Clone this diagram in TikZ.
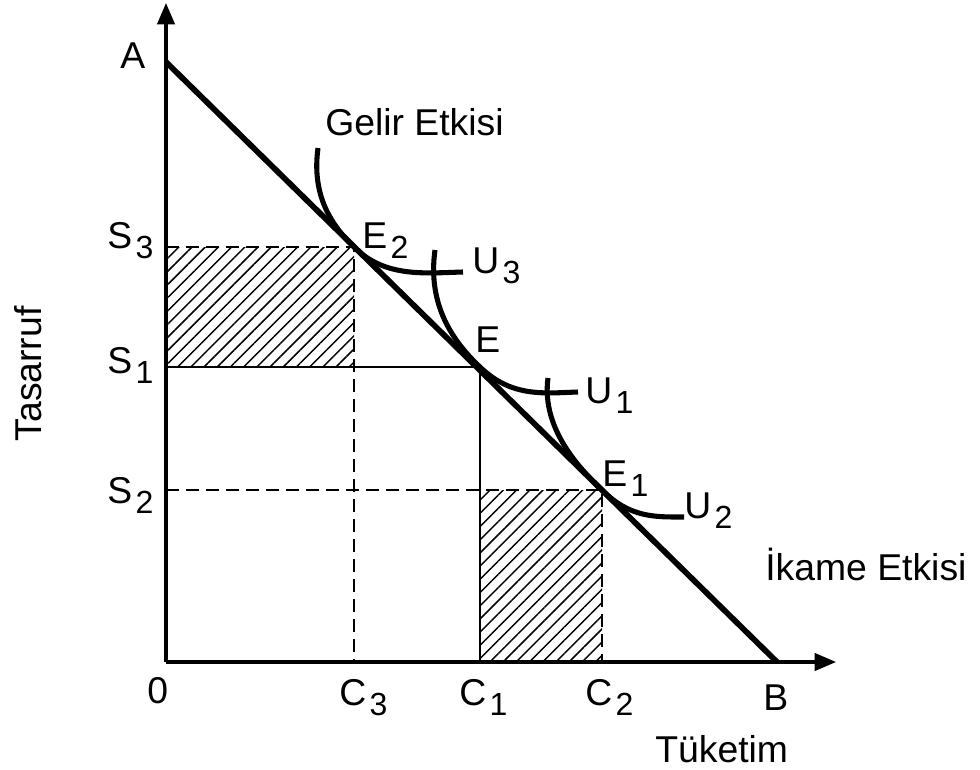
\documentclass[tikz,border=0pt]{standalone}
\usepackage{fontspec}
\setmainfont{Liberation Sans}
\usepackage{tikz}
\usetikzlibrary{arrows.meta,patterns.meta}

\newcommand\lowsub[1]{\hspace{2.5pt}\raisebox{-7.5pt}{\fontsize{24}{28}\selectfont #1}}

\begin{document}
\begin{tikzpicture}[
	x=0.75pt, y=-0.75pt,
	lbl/.style={font=\fontsize{28}{33}\selectfont, inner sep=0pt, anchor=base west},
	axisln/.style={line width=2.4pt, -{Triangle[length=16pt, width=13pt]}},
	budget/.style={line width=4.3pt},
	icurve/.style={line width=3.8pt},
	guide/.style={line width=1.6pt},
	dguide/.style={line width=2pt, dash pattern=on 10pt off 5pt},
	hatch/.style={pattern={Lines[angle=45, distance=7pt, line width=1.1pt]}},
	]
	
	\useasboundingbox (0,0) rectangle (980,769);
	
	%% ── Key points ───────────────────────────────────────────────────────────────
	\coordinate (O)  at (166,662);
	\coordinate (yend) at (166,3);
	\coordinate (xend) at (836,662);
	\coordinate (A)  at (166,62);
	\coordinate (B)  at (777,662);
	\coordinate (E2) at (354,247);
	\coordinate (E)  at (480,367);
	\coordinate (E1) at (602,490);
	\coordinate (s3) at (166,247);
	\coordinate (s1) at (166,367);
	\coordinate (s2) at (166,490);
	\coordinate (c3) at (354,662);
	\coordinate (c1) at (480,662);
	\coordinate (c2) at (602,662);
	
	%% ── Hatched areas ────────────────────────────────────────────────────────────
	\fill[hatch] (s3) rectangle (E2 |- s1);
	\fill[hatch] (c1 |- E1) rectangle (c2);
	
	%% ── Guide lines ──────────────────────────────────────────────────────────────
	\draw[guide] (s1) -- (E) -- (c1);
	\draw[dguide] (s3) -- (E2) -- (c3);
	\draw[dguide] (s2) -- (E1) -- (c2);
	
	%% ── Axes ─────────────────────────────────────────────────────────────────────
	\draw[axisln] (O) -- (yend);
	\draw[axisln] (O) -- (xend);
	
	%% ── Budget line ──────────────────────────────────────────────────────────────
	\draw[budget] (A) -- (B);
	
	%% ── Indifference curves ──────────────────────────────────────────────────────
	\draw[icurve] (318,148) .. controls (312,192) and (328,222) .. (E2)
	.. controls (385,278) and (425,273) .. (463,272);
	\draw[icurve] (435,250) .. controls (428,300) and (448,337) .. (E)
	.. controls (512,398) and (545,393) .. (578,392);
	\draw[icurve] (548,378) .. controls (542,422) and (570,460) .. (E1)
	.. controls (630,518) and (655,517) .. (684,517);
	
	%% ── Labels ───────────────────────────────────────────────────────────────────
	\node[lbl] (lA) at (120,68) {A};
	\node[lbl] (lB) at (763,710) {B};
	\node[lbl] (l0) at (147,703) {0};
	\node[lbl] (lS3) at (107,248) {S\lowsub{3}};
	\node[lbl] (lS1) at (107,373) {S\lowsub{1}};
	\node[lbl] (lS2) at (107,503) {S\lowsub{2}};
	\node[lbl] (lC3) at (339,705) {C\lowsub{3}};
	\node[lbl] (lC1) at (459,705) {C\lowsub{1}};
	\node[lbl] (lC2) at (585,705) {C\lowsub{2}};
	\node[lbl] (lE2) at (362,248) {E\lowsub{2}};
	\node[lbl] (lE)  at (475,352) {E};
	\node[lbl] (lE1) at (602,486) {E\lowsub{1}};
	\node[lbl] (lU3) at (472,273) {U\lowsub{3}};
	\node[lbl] (lU1) at (585,403) {U\lowsub{1}};
	\node[lbl] (lU2) at (684,518) {U\lowsub{2}};
	\node[lbl] (gelir) at (325,135) {Gelir Etkisi};
	\node[lbl] (ikame) at (765,580) {İkame Etkisi};
	\node[lbl] (tuk) at (655,762) {Tüketim};
	\node[lbl, rotate=90, anchor=center] (tas) at (28,374) {Tasarruf};
	
\end{tikzpicture}
\end{document}
